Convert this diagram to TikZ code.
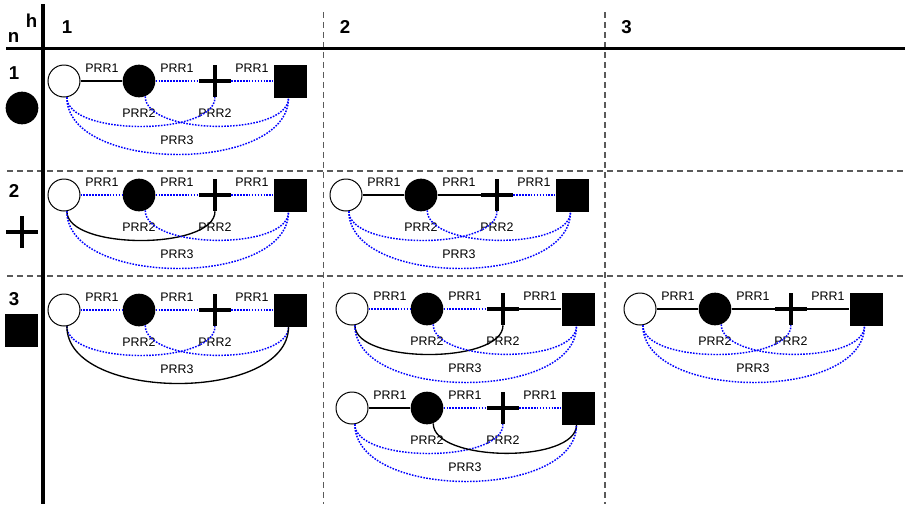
\documentclass[tikz,border=0pt]{standalone}
\usepackage{fontspec}
\setmainfont{Liberation Sans}
\definecolor{gridgray}{RGB}{90,90,90}
\tikzset{
  x=0.75pt, y=-0.75pt,
  opencirc/.style={circle, draw=black, line width=0.75pt, fill=white, minimum size=24pt, inner sep=0pt},
  fillcirc/.style={circle, fill=black, minimum size=24.5pt, inner sep=0pt},
  sqnode/.style={rectangle, fill=black, minimum size=24.75pt, inner sep=0pt},
  plusnode/.style={rectangle, minimum size=24pt, inner sep=0pt,
    path picture={\draw[line width=3.3pt] (path picture bounding box.west) -- (path picture bounding box.east)
                  (path picture bounding box.north) -- (path picture bounding box.south);}},
  lbl/.style={inner sep=0pt, font=\fontsize{9.3pt}{10pt}\selectfont},
  hdr/.style={inner sep=0pt, font=\fontsize{14pt}{16pt}\selectfont\bfseries},
  sol/.style={draw=black, line width=1pt},
  dot/.style={draw=blue, line width=1.1pt, dash pattern=on 1.2pt off 1pt},
  thickrule/.style={line width=2.7pt, black},
  gridrule/.style={line width=0.85pt, gridgray, dash pattern=on 4.5pt off 3pt}
}
\newcommand\pgraph[9]{%
  \begin{scope}[shift={(#2,#3)}]
    \node[opencirc] (#1o) at (0,0) {};
    \node[fillcirc] (#1f) at (75,0) {};
    \node[plusnode] (#1p) at (151,0) {};
    \node[sqnode] (#1s) at (226,0) {};
    \node[lbl] (#1la) at (38,-13) {PRR1};
    \node[lbl] (#1lb) at (113,-13) {PRR1};
    \node[lbl] (#1lc) at (188,-13) {PRR1};
    \node[lbl] (#1ld) at (75,32) {PRR2};
    \node[lbl] (#1le) at (151,32) {PRR2};
    \node[lbl] (#1lf) at (113,59) {PRR3};
    \draw[#4] (#1o) -- (#1f);
    \draw[#5] (#1f) -- (#1p);
    \draw[#6] (#1p) -- (#1s);
    \draw[#7] (#1o.-80) .. controls +(0,39) and +(0,39) .. (#1p.south);
    \draw[#8] (#1f.-68) .. controls +(0,39) and +(0,39) .. (#1s.-95);
    \draw[#9] (#1o.-80) .. controls +(0,76) and +(0,76) .. (#1s.-95);
  \end{scope}}
\begin{document}
\begin{tikzpicture}
\useasboundingbox (0,0) rectangle (905,504);
% grid
\draw[gridrule] (7,171) -- (905,171);
\draw[gridrule] (7,276) -- (905,276);
\draw[gridrule] (323.5,12) -- (323.5,504);
\draw[gridrule] (605,12) -- (605,504);
\draw[thickrule] (6,48.5) -- (905,48.5);
\draw[thickrule] (43,4) -- (43,504);
% headers
\node[hdr] (hn) at (13.5,37) {n};
\node[hdr] (hh) at (31.5,21) {h};
\node[hdr] (c1) at (67,27) {1};
\node[hdr] (c2) at (345,27) {2};
\node[hdr] (c3) at (626.5,27) {3};
\node[hdr] (r1) at (14,73) {1};
\node[hdr] (r2) at (14,191) {2};
\node[hdr] (r3) at (14,299) {3};
\node[fillcirc] (r1s) at (22,108) {};
\node[plusnode] (r2s) at (22,232) {};
\node[sqnode] (r3s) at (21.5,330) {};
% diagrams
\pgraph{a}{64}{81}{sol}{dot}{dot}{dot}{dot}{dot}
\pgraph{b}{64}{195}{dot}{dot}{dot}{sol}{dot}{dot}
\pgraph{c}{346}{195}{sol}{sol}{dot}{dot}{dot}{dot}
\pgraph{d}{64}{310}{dot}{dot}{dot}{dot}{dot}{sol}
\pgraph{e}{352}{309}{dot}{dot}{sol}{sol}{dot}{dot}
\pgraph{f}{352}{408}{sol}{dot}{dot}{dot}{sol}{dot}
\pgraph{g}{640}{309}{sol}{sol}{sol}{dot}{dot}{dot}
\end{tikzpicture}
\end{document}
